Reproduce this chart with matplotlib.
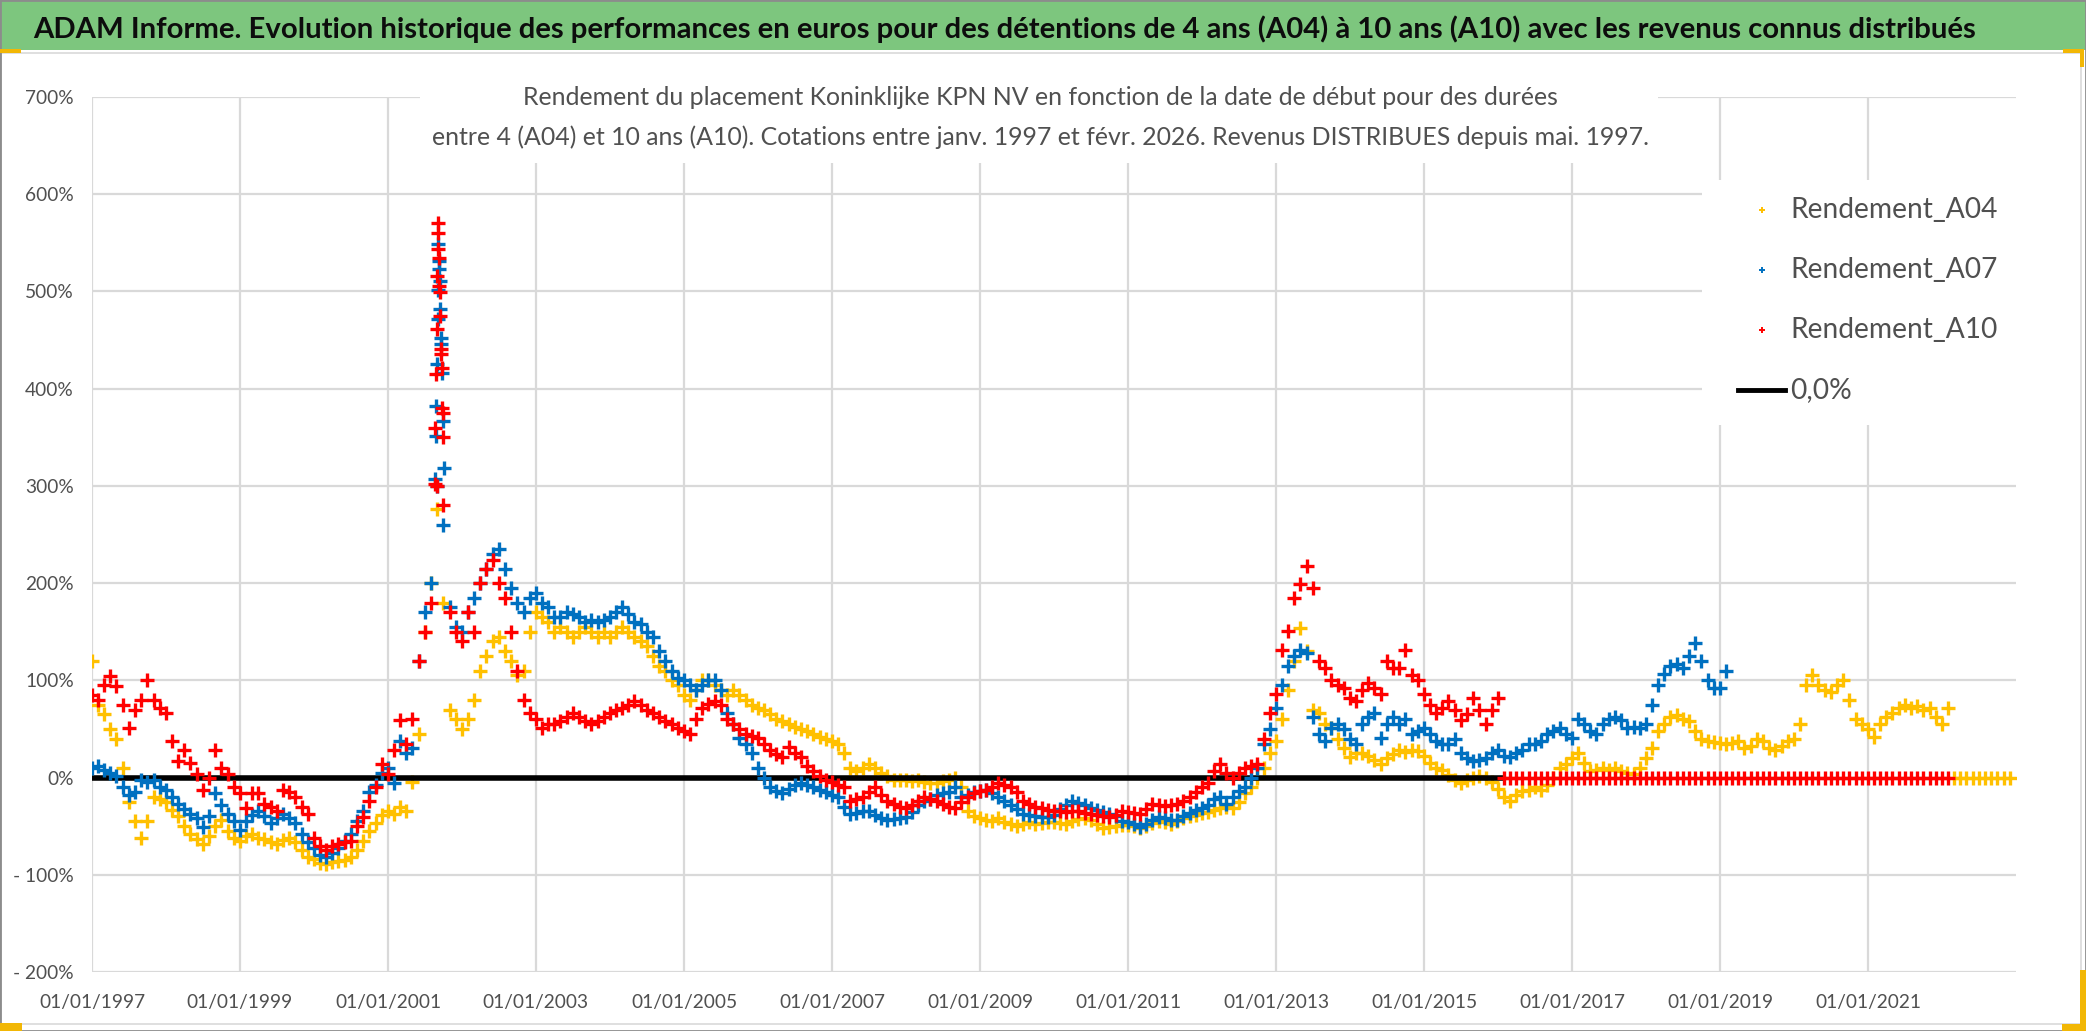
import numpy as np
import pandas as pd
import matplotlib
matplotlib.use("Agg")
import matplotlib.pyplot as plt
import matplotlib.dates as mdates
from matplotlib.patches import Rectangle
from matplotlib.lines import Line2D
from matplotlib.ticker import FuncFormatter, MultipleLocator

plt.rcParams['font.family'] = ['Lato', 'DejaVu Sans']

W, H = 2086, 1031

# monthly returns in %, one row per year (Jan..Dec), start dates from 1997-01
a04_vals = [
    120, 75, 65, 50, 40, 10, -25, -45, -62, -45, -20, -22,      # 1997
    -25, -33, -40, -50, -58, -63, -68, -60, -50, -44, -55, -62,  # 1998
    -65, -60, -58, -62, -63, -66, -68, -64, -62, -66, -75, -82,  # 1999
    -84, -88, -89, -87, -86, -85, -82, -74, -65, -55, -47, -38,  # 2000
    -34, -37, -30, -34, -5, 45, 150, 200, 276, 180, 70, 60,      # 2001
    50, 60, 80, 110, 125, 140, 145, 130, 120, 105, 110, 150,     # 2002
    170, 165, 160, 150, 155, 150, 145, 150, 155, 150, 145, 150,  # 2003
    145, 150, 155, 150, 145, 140, 135, 125, 115, 110, 100, 95,   # 2004
    85, 80, 90, 100, 100, 95, 90, 85, 90, 85, 80, 75,            # 2005
    72, 70, 65, 60, 58, 55, 52, 50, 48, 45, 42, 40,              # 2006
    38, 35, 25, 10, 7, 10, 14, 10, 5, 2, -2, -3,                 # 2007
    -2, -4, -3, -5, -6, -6, -4, -2, 0, -10, -34, -40,            # 2008
    -42, -44, -45, -42, -46, -48, -50, -48, -46, -48, -47, -46,  # 2009
    -46, -47, -48, -45, -43, -42, -44, -48, -52, -51, -50, -49,  # 2010
    -49, -50, -52, -50, -47, -45, -46, -48, -45, -42, -40, -38,  # 2011
    -36, -35, -33, -31, -30, -31, -25, -16, -10, 0, 10, 25,      # 2012
    38, 60, 90, 120, 154, 130, 70, 66, 55, 51, 40, 30,           # 2013
    21, 25, 25, 22, 18, 14, 20, 24, 28, 26, 28, 27,              # 2014
    22, 15, 10, 8, 3, -2, -6, -3, 0, 2, 0, -5,                   # 2015
    -12, -20, -24, -18, -14, -13, -10, -13, -8, 0, 10, 14,       # 2016
    20, 25, 15, 7, 8, 10, 8, 10, 7, 5, 4, 10,                    # 2017
    20, 30, 48, 55, 62, 64, 60, 58, 48, 40, 38, 37,              # 2018
    36, 35, 36, 38, 30, 32, 40, 38, 30, 28, 32, 38,              # 2019
    40, 55, 95, 105, 95, 90, 88, 95, 100, 80, 60, 55,            # 2020
    50, 42, 55, 62, 66, 72, 75, 72, 74, 70, 72, 62,              # 2021
    55, 72, 0, 0, 0, 0, 0, 0, 0, 0, 0, 0,                        # 2022
]

a07_vals = [
    10, 12, 8, 5, 2, -10, -18, -15, -3, -5, -3, -10,             # 1997
    -13, -20, -27, -32, -37, -42, -51, -40, -16, -28, -37, -45,  # 1998
    -54, -45, -38, -34, -40, -47, -42, -37, -42, -47, -58, -66,  # 1999
    -72, -80, -82, -78, -72, -65, -58, -45, -34, -15, -8, 5,     # 2000
    10, -6, 38, 25, 30, 120, 170, 200, 300, 260, 175, 155,       # 2001
    150, 170, 185, 200, 215, 230, 235, 215, 195, 180, 170, 185,  # 2002
    190, 180, 175, 165, 165, 170, 168, 165, 160, 162, 160, 162,  # 2003
    165, 170, 175, 168, 160, 158, 150, 145, 130, 120, 110, 102,  # 2004
    100, 95, 90, 95, 100, 100, 90, 66, 55, 41, 35, 25,           # 2005
    10, 0, -10, -14, -16, -12, -8, -6, -8, -10, -13, -15,        # 2006
    -18, -20, -30, -37, -36, -34, -34, -38, -42, -44, -43, -42,  # 2007
    -41, -35, -28, -24, -22, -18, -16, -15, -10, -20, -18, -15,  # 2008
    -14, -13, -16, -20, -24, -28, -32, -37, -38, -40, -41, -41,  # 2009
    -38, -32, -28, -24, -26, -28, -31, -33, -35, -37, -40, -45,  # 2010
    -46, -48, -51, -48, -44, -41, -42, -44, -44, -40, -36, -33,  # 2011
    -31, -28, -22, -20, -27, -20, -14, -10, 0, 10, 35, 50,       # 2012
    72, 95, 115, 125, 131, 128, 62, 45, 38, 51, 55, 50,          # 2013
    40, 35, 55, 62, 66, 41, 55, 62, 55, 60, 45, 48,              # 2014
    51, 45, 38, 35, 35, 40, 25, 20, 17, 18, 20, 25,              # 2015
    28, 22, 21, 25, 28, 35, 35, 38, 45, 48, 51, 45,              # 2016
    41, 60, 55, 48, 45, 55, 60, 62, 59, 51, 52, 51,              # 2017
    55, 75, 95, 107, 115, 117, 113, 125, 138, 120, 100, 92,      # 2018
    92, 110,                                                     # 2019
]

a10_vals = [
    85, 80, 95, 104, 94, 75, 51, 70, 80, 100, 80, 72,            # 1997
    66, 38, 17, 28, 15, 4, -13, 0, 28, 10, 4, -10,               # 1998
    -16, -31, -16, -16, -27, -30, -34, -13, -15, -20, -30, -37,  # 1999
    -62, -70, -75, -70, -68, -66, -65, -50, -41, -24, -10, 14,   # 2000
    4, 28, 59, 35, 60, 120, 150, 180, 300, 280, 170, 150,        # 2001
    140, 170, 150, 200, 215, 224, 200, 185, 150, 110, 80, 66,    # 2002
    60, 51, 55, 55, 58, 62, 66, 62, 58, 55, 58, 62,              # 2003
    66, 69, 72, 75, 79, 75, 70, 66, 62, 58, 55, 51,              # 2004
    48, 45, 60, 72, 76, 79, 75, 60, 55, 50, 45, 43,              # 2005
    41, 35, 28, 24, 21, 31, 25, 21, 12, 7, 2, -3,                # 2006
    -5, -8, -10, -24, -22, -20, -15, -10, -18, -24, -27, -30,    # 2007
    -31, -28, -24, -20, -22, -24, -27, -30, -31, -25, -20, -16,  # 2008
    -14, -13, -10, -6, -8, -10, -15, -24, -27, -30, -31, -33,    # 2009
    -34, -34, -35, -34, -34, -36, -37, -38, -40, -41, -38, -34,  # 2010
    -35, -36, -37, -32, -27, -28, -29, -28, -27, -24, -20, -15,  # 2011
    -10, -6, 7, 14, 5, 0, 5, 10, 12, 14, 40, 66,                 # 2012
    86, 131, 151, 185, 199, 218, 195, 120, 113, 100, 95, 92,     # 2013
    82, 79, 90, 97, 92, 86, 120, 113, 113, 131, 105, 100,        # 2014
    86, 75, 66, 72, 79, 70, 59, 65, 82, 70, 55, 69,              # 2015
    82,                                                          # 2016
]
# A10 shows 0 from Feb 2016 to Feb 2022 (no 10-year horizon available)
a10_zero_start, a10_zero_end = "2016-02-01", "2022-02-01"

# daily points of the Sept. 2001 spike
a10_spike_dates = ["2001-08-20", "2001-08-23", "2001-08-27", "2001-08-29", "2001-08-31",
                   "2001-09-03", "2001-09-05", "2001-09-07", "2001-09-10", "2001-09-12",
                   "2001-09-14", "2001-09-17", "2001-09-19", "2001-09-21", "2001-09-24",
                   "2001-09-26", "2001-09-28", "2001-10-01"]
a10_spike_vals = [302, 360, 415, 461, 516, 544, 570, 560, 534, 506,
                  499, 475, 441, 436, 421, 380, 375, 350]
a07_spike_dates = ["2001-08-21", "2001-08-24", "2001-08-28", "2001-08-30", "2001-09-03",
                   "2001-09-04", "2001-09-06", "2001-09-10", "2001-09-11", "2001-09-13",
                   "2001-09-17", "2001-09-18", "2001-09-20", "2001-09-25", "2001-09-27",
                   "2001-10-02"]
a07_spike_vals = [307, 351, 382, 425, 472, 502, 549, 531, 523, 511,
                  482, 452, 446, 416, 367, 318]

zero_line = ["1997-01-01", "2016-02-01"]

x_start, x_end = "1997-01-01", "2023-01-01"
tick_years = list(range(1997, 2022, 2))

c_a04, c_a07, c_a10 = '#FFC000', '#0070C0', '#FF0000'
grey_txt = '#505050'
grid_col = '#D9D9D9'

title = ("ADAM Informe. Evolution historique des performances en euros pour des "
         "détentions de 4 ans (A04) à 10 ans (A10) avec les revenus connus distribués")
sub1 = ("Rendement du placement Koninklijke KPN NV en fonction de la date de début "
        "pour des durées")
sub2 = ("entre 4 (A04) et 10 ans (A10). Cotations entre janv. 1997 et févr. 2026. "
        "Revenus DISTRIBUES depuis mai. 1997.")
legend_labels = ["Rendement_A04", "Rendement_A07", "Rendement_A10", "0,0%"]


def fx(px):
    return px / W


def fy(py):
    return 1 - py / H


fig = plt.figure(figsize=(W / 100, H / 100), dpi=100)
renderer = fig.canvas.get_renderer()


def size_for(text, target_w, weight='normal'):
    t = fig.text(0, 0, text, fontsize=20, fontweight=weight)
    w = t.get_window_extent(renderer).width
    t.remove()
    return 20 * target_w / w


# banner and frames
fig.add_artist(Rectangle((0, fy(50)), 1, 50 / H, transform=fig.transFigure,
                         facecolor='#7DC67E', edgecolor='none', zorder=0))
fig.add_artist(Rectangle((fx(1), fy(1024)), fx(2080), (1024 - 53) / H, transform=fig.transFigure,
                         facecolor='none', edgecolor=grid_col, lw=1.2, zorder=0))
fig.add_artist(Rectangle((0, 0), 1, 1, transform=fig.transFigure,
                         facecolor='none', edgecolor='#8C8C8C', lw=2, zorder=10))
for (x0, y0, w, h) in [(0, 49, 21, 4), (2063, 49, 20, 4), (2080, 49, 4, 18),
                       (0, 1023, 22, 8), (2062, 1024, 24, 7), (2080, 970, 6, 61)]:
    fig.add_artist(Rectangle((fx(x0), fy(y0 + h)), w / W, h / H, transform=fig.transFigure,
                             facecolor='#F2B705', edgecolor='none', zorder=11))

fig.text(fx(33), fy(38), title, fontsize=size_for(title, 1946, 'bold'),
         fontweight='bold', color='#0D0D0D', ha='left', va='baseline')

ax = fig.add_axes([fx(92), fy(972), (2016 - 92) / W, (972 - 97) / H])
ax.set_xlim(pd.Timestamp(x_start), pd.Timestamp(x_end))
ax.set_ylim(-200, 700)

tick_fs = size_for("01/01/1997", 106)
ax.set_xticks([pd.Timestamp(f"{y}-01-01") for y in tick_years])
ax.xaxis.set_major_formatter(mdates.DateFormatter('%d/%m/%Y'))
ax.yaxis.set_major_locator(MultipleLocator(100))
ax.yaxis.set_major_formatter(FuncFormatter(
    lambda v, p: f"{int(v)}%" if v >= 0 else f"- {int(-v)}%"))
ax.tick_params(axis='both', length=0, labelsize=tick_fs, labelcolor=grey_txt)
ax.tick_params(axis='y', pad=13)
ax.tick_params(axis='x', pad=16)
for s in ax.spines.values():
    s.set_visible(False)
ax.set_axisbelow(True)
ax.grid(True, color=grid_col, lw=1.6)

# white boxes behind the subtitle and the legend hide the grid
for (x0, y0, x1, y1) in [(420, 60, 1658, 163), (1702, 180, 2030, 425)]:
    ax.add_patch(Rectangle((fx(x0), fy(y1)), (x1 - x0) / W, (y1 - y0) / H,
                           transform=fig.transFigure, facecolor='white',
                           edgecolor='none', zorder=1, clip_on=False))

mk = dict(marker='+', linestyle='none', markersize=9.5, markeredgewidth=2.4)

a04_dates = pd.date_range("1997-01-01", periods=len(a04_vals), freq="MS")
a07_dates = pd.date_range("1997-01-01", periods=len(a07_vals), freq="MS")
a10_dates = pd.date_range("1997-01-01", periods=len(a10_vals), freq="MS")
a10_zero_dates = pd.date_range(a10_zero_start, a10_zero_end, freq="MS")

ax.plot(a04_dates, a04_vals, color=c_a04, zorder=2, **mk)
ax.plot(pd.to_datetime(zero_line), [0, 0], color='black', lw=4, zorder=2.5,
        solid_capstyle='butt')
ax.plot(a07_dates, a07_vals, color=c_a07, zorder=3, **mk)
ax.plot(pd.to_datetime(a07_spike_dates), a07_spike_vals, color=c_a07, zorder=3, **mk)
ax.plot(a10_dates, a10_vals, color=c_a10, zorder=3.5, **mk)
ax.plot(pd.to_datetime(a10_spike_dates), a10_spike_vals, color=c_a10, zorder=3.5, **mk)
ax.plot(a10_zero_dates, np.zeros(len(a10_zero_dates)), color=c_a10, zorder=3.5, **mk)

# subtitle
sub_fs = size_for(sub2, 1222)
fig.text(fx(1040), fy(105), sub1, fontsize=sub_fs, color=grey_txt, ha='center', va='baseline')
fig.text(fx(1040), fy(145), sub2, fontsize=sub_fs, color=grey_txt, ha='center', va='baseline')

# legend
leg_fs = size_for("Rendement_A04", 208)
rows = [210, 270, 330, 390]
for lab, yy, col in zip(legend_labels[:3], rows[:3], [c_a04, c_a07, c_a10]):
    fig.add_artist(Line2D([fx(1762)], [fy(yy)], transform=fig.transFigure, color=col,
                          marker='+', markersize=5, markeredgewidth=1.4, linestyle='none'))
    fig.text(fx(1790), fy(yy), lab, fontsize=leg_fs, color=grey_txt, ha='left', va='center')
fig.add_artist(Line2D([fx(1738), fx(1785)], [fy(rows[3]), fy(rows[3])],
                      transform=fig.transFigure, color='black', lw=3.5))
fig.text(fx(1790), fy(rows[3]), legend_labels[3], fontsize=leg_fs, color=grey_txt,
         ha='left', va='center')

fig.savefig("out.png", dpi=100, facecolor='white')
